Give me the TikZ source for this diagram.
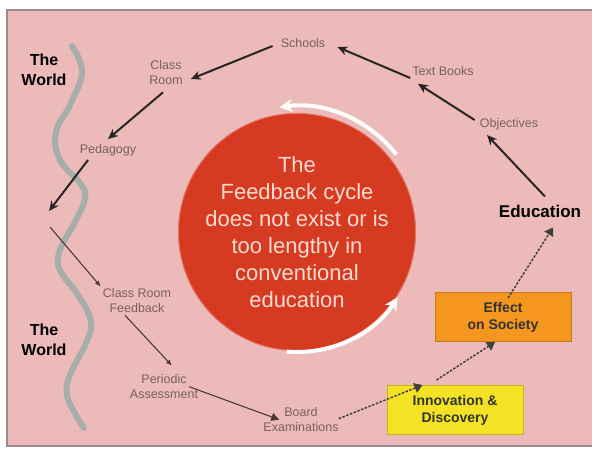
\documentclass[tikz,border=0pt]{standalone}
\usepackage{fontspec}
\setmainfont{Liberation Sans}
\usetikzlibrary{arrows.meta}
\definecolor{panelpink}{HTML}{EDBABA}
\definecolor{panelline}{HTML}{9A8C8C}
\definecolor{cyclered}{HTML}{D63A20}
\definecolor{cycletext}{HTML}{F8DCD2}
\definecolor{labelgray}{HTML}{76625F}
\definecolor{wavegray}{HTML}{A7ADAB}
\definecolor{effectorange}{HTML}{F5961E}
\definecolor{innovyellow}{HTML}{F4E324}
\tikzset{
  stage/.style={text=labelgray, align=center, inner sep=2pt, font=\fontsize{12.5}{15}\selectfont},
  worldlabel/.style={align=center, inner sep=2pt, font=\bfseries\fontsize{16}{20}\selectfont},
  impact/.style={draw=#1!80!black, fill=#1, line width=1pt, minimum width=136pt, minimum height=49pt,
    align=center, text=black!80, font=\bfseries\fontsize{14}{17}\selectfont},
  bigarrow/.style={-{Stealth[length=10pt,width=9pt]}, line width=2pt, draw=black!85},
  thinarrow/.style={-{Latex[length=6pt,width=5pt]}, line width=1.1pt, draw=labelgray!60!black},
  dotarrow/.style={-{Triangle[length=8pt,width=10pt]}, line width=1.5pt, dash pattern=on 2.5pt off 1.5pt, draw=black!75},
  cyclearrow/.style={-{Stealth[length=13pt,width=13pt]}, line width=4pt, draw=white}
}
\begin{document}
\begin{tikzpicture}[x=1pt, y=-1pt]
\useasboundingbox (0,0) rectangle (592,448);
\fill [white] (0,0) rectangle (592,448);
\draw [panelline, fill=panelpink, line width=2pt] (7,10) rectangle (600,446);
\draw [wavegray, line width=6pt, line cap=round] plot [smooth, tension=0.7] coordinates {(72,46) (82,72) (70,105) (56,132) (60,160) (80,183) (85,198) (75,222) (60,250) (60,270) (78,295) (91,322) (85,345) (70,375) (67,395) (76,415) (84,428)};
\node [worldlabel] (world1) at (44,70) {The\\World};
\node [worldlabel] (world2) at (44,340) {The\\World};
\coordinate (worldin) at (49,211);
\coordinate (worldout) at (50,227);

\node [circle, fill=cyclered, draw=cyclered!70!white, line width=1pt, minimum size=222pt, inner sep=0pt,
  text=cycletext, align=center, font=\fontsize{22}{27}\selectfont] (feedback) at (297,232)
  {The\\Feedback cycle\\does not exist or is\\too lengthy in\\conventional\\education};
\draw [cyclearrow] (feedback.center) ++(38:126pt) arc [start angle=38, end angle=98, radius=126pt];
\draw [cyclearrow] (feedback.center) ++(-95:120pt) arc [start angle=-95, end angle=-33, radius=120pt];

\node [stage] (schools) at (303,43) {Schools};
\node [stage] (classroom) at (166,73) {Class\\Room};
\node [stage] (pedagogy) at (108,150) {Pedagogy};
\node [stage] (crfb) at (137,301) {Class Room\\Feedback};
\node [stage] (periodic) at (164,387) {Periodic\\Assessment};
\node [stage] (board) at (301,420) {Board\\Examinations};
\node [stage] (textbooks) at (443,71) {Text Books};
\node [stage] (objectives) at (509,124) {Objectives};
\node [worldlabel, font=\bfseries\fontsize{17}{20}\selectfont] (education) at (540,211) {Education};
\node [impact=effectorange] (effect) at (503,317) {Effect\\on Society};
\node [impact=innovyellow] (innov) at (455,410) {Innovation \&\\Discovery};

\draw [bigarrow] ([xshift=-6pt,yshift=-3pt]schools.west) -- ([xshift=6pt,yshift=-6pt]classroom.east);
\draw [bigarrow] ([xshift=-3pt,yshift=-5pt]classroom.south) -- ([yshift=3pt]pedagogy.north);
\draw [bigarrow] ([xshift=-20pt,yshift=-2pt]pedagogy.south) -- (worldin);
\draw [thinarrow] (worldout) -- (crfb.north west);
\draw [thinarrow] ([xshift=-12pt]crfb.south) -- ([xshift=8pt,yshift=7pt]periodic.north);
\draw [thinarrow, -{Triangle[length=8pt,width=8pt]}] ([xshift=-11pt,yshift=-14pt]periodic.north east) -- ([xshift=18pt,yshift=-14pt]board.north west);
\draw [dotarrow] ([xshift=-2pt,yshift=-13pt]board.north east) -- ([xshift=36pt]innov.north west);
\draw [dotarrow] ([xshift=50pt,yshift=5pt]innov.north west) -- ([xshift=-8pt]effect.south);
\draw [dotarrow] ([xshift=5pt,yshift=-6pt]effect.north) -- ([xshift=13pt,yshift=-8pt]education.south);
\draw [bigarrow] ([xshift=5pt,yshift=6pt]education.north) -- ([xshift=-22pt,yshift=-3pt]objectives.south);
\draw [bigarrow] ([xshift=-3pt,yshift=4pt]objectives.west) -- ([xshift=-25pt,yshift=-6pt]textbooks.south);
\draw [bigarrow] ([yshift=-7pt]textbooks.west) -- ([xshift=10pt,yshift=-4pt]schools.east);
\end{tikzpicture}
\end{document}
